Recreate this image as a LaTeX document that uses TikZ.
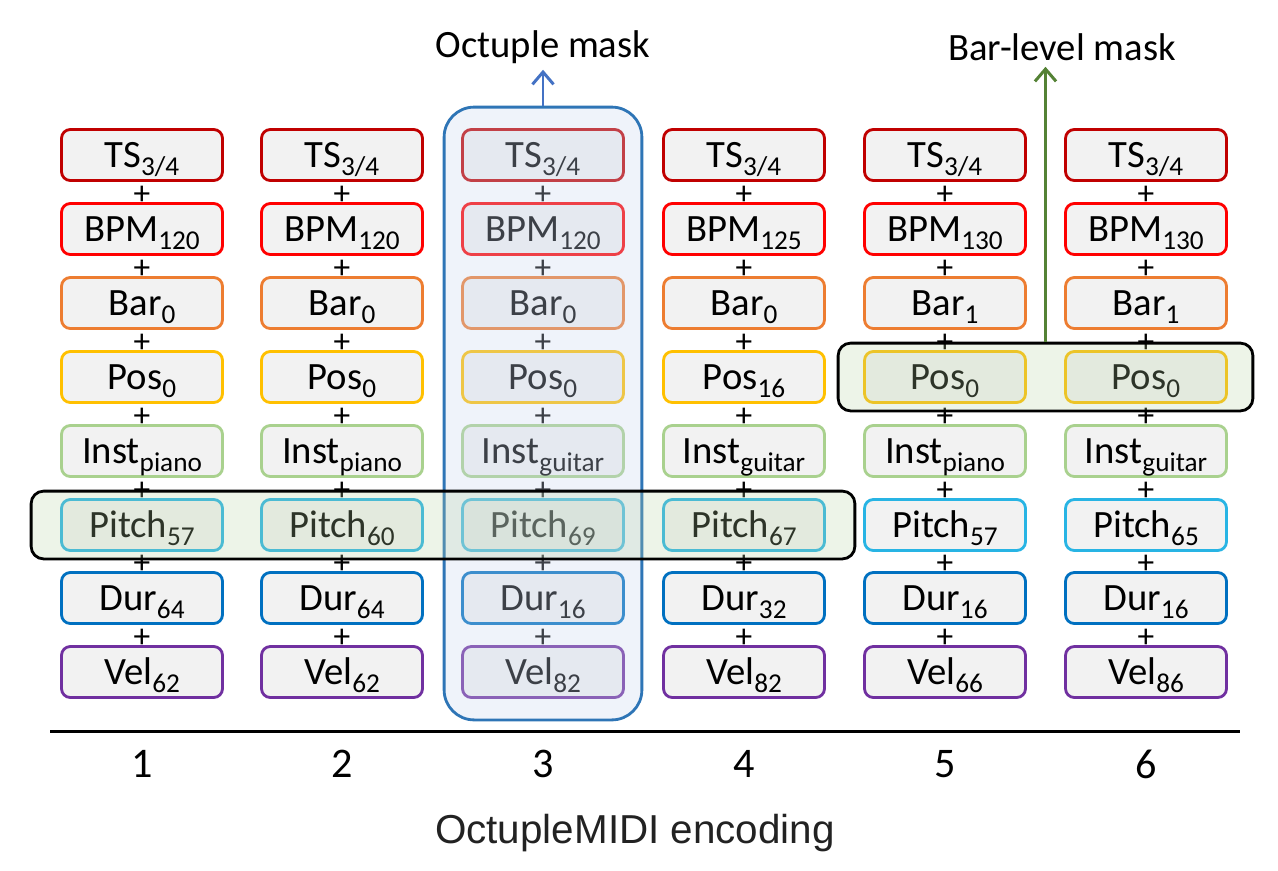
\documentclass[tikz,border=0pt]{standalone}
\usepackage{fontspec}
\setmainfont{Carlito}
\newfontfamily\captionfont{Liberation Sans}
\usetikzlibrary{calc,fit,arrows.meta}

\definecolor{tscol}{RGB}{192,0,0}
\definecolor{bpmcol}{RGB}{255,0,0}
\definecolor{barcol}{RGB}{237,125,49}
\definecolor{poscol}{RGB}{255,192,0}
\definecolor{instcol}{RGB}{169,209,142}
\definecolor{pitchcol}{RGB}{40,180,228}
\definecolor{durcol}{RGB}{0,112,192}
\definecolor{velcol}{RGB}{112,48,160}
\definecolor{boxgray}{RGB}{242,242,242}
\definecolor{maskblue}{RGB}{46,117,182}
\definecolor{octfill}{RGB}{201,214,238}
\definecolor{greenfill}{RGB}{183,211,163}
\definecolor{arrowblue}{RGB}{68,114,196}
\definecolor{arrowgreen}{RGB}{84,130,53}
\definecolor{captiongray}{RGB}{34,34,34}

\newcommand{\tsub}[1]{\raisebox{-0.2em}{\fontsize{15.5}{16}\selectfont #1}}

\tikzset{
  tok/.style={draw=#1, fill=boxgray, rounded corners=5pt, line width=1.6pt,
    minimum width=3.22cm, minimum height=1.02cm, inner sep=0pt,
    text height=14pt, text depth=0pt, font=\fontsize{22}{24}\selectfont},
  plus/.style={inner sep=0pt, font=\fontsize{19}{19}\selectfont},
  masklabel/.style={font=\fontsize{22}{24}\selectfont},
  numlab/.style={font=\fontsize{24}{26}\selectfont},
  maskarrow/.style={line width=1.7pt, -{Straight Barb[length=7pt,width=12pt]}}
}

\begin{document}
\begin{tikzpicture}[x=0.02cm, y=-0.02cm]
\useasboundingbox (0,0) rectangle (1278,870);

% column 1
\node[tok=tscol] (ts1) at (142,155) {TS\tsub{3/4}};
\node[tok=bpmcol] (bpm1) at (142,229) {BPM\tsub{120}};
\node[tok=barcol] (bar1) at (142,303) {Bar\tsub{0}};
\node[tok=poscol] (pos1) at (142,377) {Pos\tsub{0}};
\node[tok=instcol] (inst1) at (142,451) {Inst\tsub{piano}};
\node[tok=pitchcol] (pitch1) at (142,525) {Pitch\tsub{57}};
\node[tok=durcol] (dur1) at (142,598) {Dur\tsub{64}};
\node[tok=velcol] (vel1) at (142,672) {Vel\tsub{62}};

% column 2
\node[tok=tscol] (ts2) at (342,155) {TS\tsub{3/4}};
\node[tok=bpmcol] (bpm2) at (342,229) {BPM\tsub{120}};
\node[tok=barcol] (bar2) at (342,303) {Bar\tsub{0}};
\node[tok=poscol] (pos2) at (342,377) {Pos\tsub{0}};
\node[tok=instcol] (inst2) at (342,451) {Inst\tsub{piano}};
\node[tok=pitchcol] (pitch2) at (342,525) {Pitch\tsub{60}};
\node[tok=durcol] (dur2) at (342,598) {Dur\tsub{64}};
\node[tok=velcol] (vel2) at (342,672) {Vel\tsub{62}};

% column 3
\node[tok=tscol] (ts3) at (543,155) {TS\tsub{3/4}};
\node[tok=bpmcol] (bpm3) at (543,229) {BPM\tsub{120}};
\node[tok=barcol] (bar3) at (543,303) {Bar\tsub{0}};
\node[tok=poscol] (pos3) at (543,377) {Pos\tsub{0}};
\node[tok=instcol] (inst3) at (543,451) {Inst\tsub{guitar}};
\node[tok=pitchcol] (pitch3) at (543,525) {Pitch\tsub{69}};
\node[tok=durcol] (dur3) at (543,598) {Dur\tsub{16}};
\node[tok=velcol] (vel3) at (543,672) {Vel\tsub{82}};

% column 4
\node[tok=tscol] (ts4) at (744,155) {TS\tsub{3/4}};
\node[tok=bpmcol] (bpm4) at (744,229) {BPM\tsub{125}};
\node[tok=barcol] (bar4) at (744,303) {Bar\tsub{0}};
\node[tok=poscol] (pos4) at (744,377) {Pos\tsub{16}};
\node[tok=instcol] (inst4) at (744,451) {Inst\tsub{guitar}};
\node[tok=pitchcol] (pitch4) at (744,525) {Pitch\tsub{67}};
\node[tok=durcol] (dur4) at (744,598) {Dur\tsub{32}};
\node[tok=velcol] (vel4) at (744,672) {Vel\tsub{82}};

% column 5
\node[tok=tscol] (ts5) at (945,155) {TS\tsub{3/4}};
\node[tok=bpmcol] (bpm5) at (945,229) {BPM\tsub{130}};
\node[tok=barcol] (bar5) at (945,303) {Bar\tsub{1}};
\node[tok=poscol] (pos5) at (945,377) {Pos\tsub{0}};
\node[tok=instcol] (inst5) at (945,451) {Inst\tsub{piano}};
\node[tok=pitchcol] (pitch5) at (945,525) {Pitch\tsub{57}};
\node[tok=durcol] (dur5) at (945,598) {Dur\tsub{16}};
\node[tok=velcol] (vel5) at (945,672) {Vel\tsub{66}};

% column 6
\node[tok=tscol] (ts6) at (1146,155) {TS\tsub{3/4}};
\node[tok=bpmcol] (bpm6) at (1146,229) {BPM\tsub{130}};
\node[tok=barcol] (bar6) at (1146,303) {Bar\tsub{1}};
\node[tok=poscol] (pos6) at (1146,377) {Pos\tsub{0}};
\node[tok=instcol] (inst6) at (1146,451) {Inst\tsub{guitar}};
\node[tok=pitchcol] (pitch6) at (1146,525) {Pitch\tsub{65}};
\node[tok=durcol] (dur6) at (1146,598) {Dur\tsub{16}};
\node[tok=velcol] (vel6) at (1146,672) {Vel\tsub{86}};

% plus signs between tokens
\foreach \c in {1,...,6}
  \foreach \u/\l in {ts/bpm,bpm/bar,bar/pos,pos/inst,inst/pitch,pitch/dur,dur/vel}
    \node[plus] (p\u\c) at ($(\u\c.south)!0.65!(\l\c.north)$) {+};

% masks
\node[draw=maskblue, fill=octfill, fill opacity=0.3, line width=1.6pt,
  rounded corners=0.6cm, inner xsep=0.34cm, inner ysep=0.42cm,
  fit=(ts3)(vel3)] (octmask) {};
\node[draw=black, fill=greenfill, fill opacity=0.25, line width=1.6pt,
  rounded corners=0.25cm, inner xsep=0.58cm, inner ysep=0.14cm,
  fit=(pitch1)(pitch4)] (pitchmask) {};
\node[draw=black, fill=greenfill, fill opacity=0.25, line width=1.6pt,
  rounded corners=0.25cm, inner xsep=0.5cm, inner ysep=0.14cm,
  fit=(pos5)(pos6)] (barmask) {};

\node[masklabel] (octlabel) at (543,47) {Octuple mask};
\node[masklabel] (barlabel) at (1062,47) {Bar-level mask};
\draw[maskarrow, arrowblue] (octmask.north) -- (octlabel.south);
\draw[maskarrow, arrowgreen] (barmask.north) -- (barmask.north |- barlabel.south);

% axis and column numbers
\coordinate (axl) at (50,731);
\coordinate (axr) at (1240,731);
\draw[line width=1.7pt] (axl) -- (axr);
\node[numlab] (n1) at (142,764) {1};
\node[numlab] (n2) at (342,764) {2};
\node[numlab] (n3) at (543,764) {3};
\node[numlab] (n4) at (744,764) {4};
\node[numlab] (n5) at (945,764) {5};
\node[numlab] (n6) at (1146,764) {6};

\node[font=\captionfont\fontsize{23}{25}\selectfont, text=captiongray] (caption) at (635,833) {OctupleMIDI encoding};
\end{tikzpicture}
\end{document}
